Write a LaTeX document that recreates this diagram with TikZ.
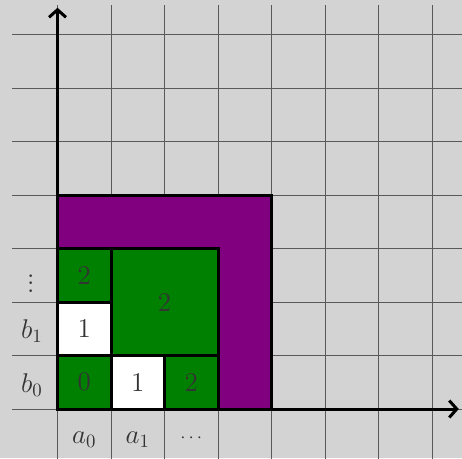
\documentclass[tikz,border=0pt]{standalone}
\usetikzlibrary{arrows.meta}
\definecolor{bgc}{HTML}{D3D3D3}
\definecolor{pur}{HTML}{800080}
\definecolor{grn}{HTML}{008000}
\definecolor{txt}{HTML}{333333}
\begin{document}
\begin{tikzpicture}[x=1cm,y=1cm,
  gridline/.style={draw=black!65,line width=0.45pt},
  box/.style={draw=black,line width=1.6pt},
  lab/.style={text=txt,font=\Large,inner sep=1pt},
  axis/.style={draw=black,line width=1.6pt,-{Straight Barb[length=4pt,width=9pt,line width=1.6pt]}}]
\fill[bgc] (-1.075,-0.916) rectangle (7.56,7.645);
\useasboundingbox (-1.075,-0.916) rectangle (7.56,7.645);
% grid
\foreach \i in {0,...,7} {
  \draw[gridline] (\i,-0.95) -- (\i,7.55);
  \draw[gridline] (-0.85,\i) -- (7.6,\i);
}
% purple region
\draw[box,fill=pur] (0,0) rectangle (4,4);
% cells
\draw[box,fill=grn] (0,0) rectangle (1,1) node[midway,lab] (c00) {0};
\draw[box,fill=white] (1,0) rectangle (2,1) node[midway,lab] (c10) {1};
\draw[box,fill=grn] (2,0) rectangle (3,1) node[midway,lab] (c20) {2};
\draw[box,fill=white] (0,1) rectangle (1,2) node[midway,lab] (c01) {1};
\draw[box,fill=grn] (0,2) rectangle (1,3) node[midway,lab] (c02) {2};
\draw[box,fill=grn] (1,1) rectangle (3,3) node[midway,lab] (c11) {2};
% axes
\coordinate (o) at (0,0);
\coordinate (xend) at (7.5,0);
\coordinate (yend) at (0,7.5);
\draw[axis] (o) -- (xend);
\draw[axis] (o) -- (yend);
% labels
\node[lab] (a0) at (0.5,-0.58) {$a_0$};
\node[lab] (a1) at (1.5,-0.58) {$a_1$};
\node[lab,font=\normalsize] (ad) at (2.5,-0.55) {$\cdots$};
\node[lab] (b0) at (-0.48,0.45) {$b_0$};
\node[lab] (b1) at (-0.48,1.45) {$b_1$};
\node[lab] (bd) at (-0.5,2.45) {$\vdots$};
\end{tikzpicture}
\end{document}
